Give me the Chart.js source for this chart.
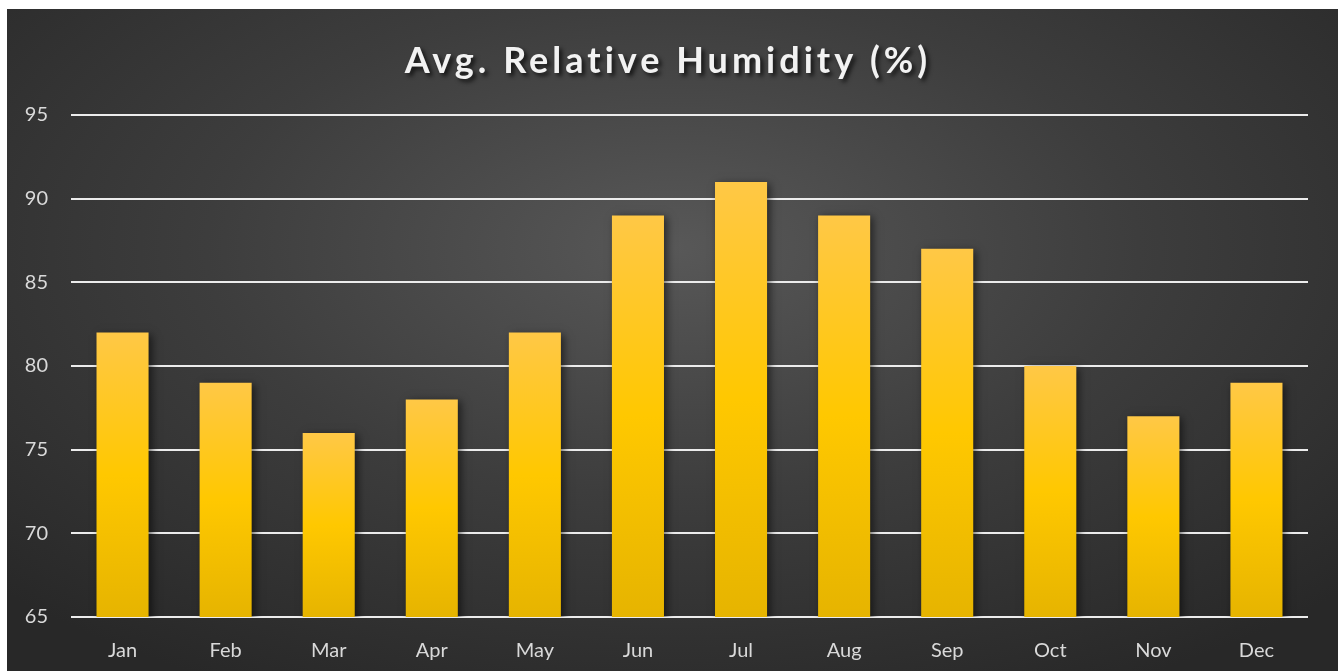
<!DOCTYPE html>
<html>
<head>
<meta charset="utf-8">
<script src="https://cdn.jsdelivr.net/npm/chart.js@4.4.0/dist/chart.umd.min.js"></script>
<style>
  html, body { margin: 0; padding: 0; background: #fff; }
  #box {
    position: absolute; left: 7px; top: 9px; width: 1331px; height: 662px;
    background: radial-gradient(ellipse 70% 75% at 50% 36%, #585858 0%, #3d3d3d 50%, #282828 100%);
  }
  #humidityChart { display: block; }
</style>
</head>
<body>
<div id="box"><canvas id="humidityChart" width="1331" height="662"></canvas></div>
<script>
// Dados
const months = ['Jan', 'Feb', 'Mar', 'Apr', 'May', 'Jun', 'Jul', 'Aug', 'Sep', 'Oct', 'Nov', 'Dec'];
const humidity = [82, 79, 76, 78, 82, 89, 91, 89, 87, 80, 77, 79];
const yTicks = [65, 70, 75, 80, 85, 90, 95];
const chartTitle = 'Avg. Relative Humidity (%)';

// Sombra nas barras
const barShadow = {
    id: 'barShadow',
    beforeDatasetsDraw(chart) {
        const c = chart.ctx;
        c.save();
        c.shadowColor = 'rgba(0,0,0,0.55)';
        c.shadowBlur = 8;
        c.shadowOffsetX = 3;
        c.shadowOffsetY = 2;
    },
    afterDatasetsDraw(chart) {
        chart.ctx.restore();
    }
};

// Título com espaçamento entre letras e sombra
const titleText = {
    id: 'titleText',
    afterDraw(chart) {
        const c = chart.ctx;
        c.save();
        c.font = 'bold 36px Lato';
        c.letterSpacing = '4px';
        c.textAlign = 'center';
        c.textBaseline = 'alphabetic';
        c.fillStyle = '#f2f2f2';
        c.shadowColor = 'rgba(0,0,0,0.7)';
        c.shadowBlur = 4;
        c.shadowOffsetX = 3;
        c.shadowOffsetY = 3;
        c.fillText(chartTitle, 661, 64);
        c.restore();
    }
};

document.addEventListener('DOMContentLoaded', function () {
    const ctx = document.getElementById('humidityChart').getContext('2d');
    new Chart(ctx, {
        type: 'bar',
        data: {
            labels: months,
            datasets: [{
                label: 'Humidity',
                data: humidity,
                // gradiente por barra: topo mais claro
                backgroundColor: function (context) {
                    const chart = context.chart;
                    const y = chart.scales.y;
                    if (!y || !chart.chartArea) return '#ffc800';
                    const top = y.getPixelForValue(context.raw);
                    const bottom = y.getPixelForValue(y.min);
                    if (!isFinite(top) || bottom - top < 1) return '#ffc800';
                    const g = chart.ctx.createLinearGradient(0, top, 0, bottom);
                    g.addColorStop(0, '#ffc846');
                    g.addColorStop(0.5, '#ffc800');
                    g.addColorStop(1, '#e6b400');
                    return g;
                },
                borderWidth: 0,
                barPercentage: 0.505,
                categoryPercentage: 1
            }]
        },
        options: {
            responsive: false,
            animation: false,
            layout: { padding: { left: 18, right: 30, top: 106, bottom: -6 } },
            plugins: {
                legend: { display: false },
                tooltip: { enabled: false },
                title: { display: false }
            },
            scales: {
                x: {
                    grid: { display: false },
                    border: { display: false },
                    ticks: { color: '#d9d9d9', font: { family: 'Lato', size: 20 }, padding: 14 }
                },
                y: {
                    min: 65,
                    max: 95,
                    afterFit: function (scale) { scale.width = 46; },
                    afterBuildTicks: function (scale) { scale.ticks = yTicks.map(v => ({ value: v })); },
                    grid: { color: '#ececec', lineWidth: 2, drawTicks: false },
                    border: { display: false },
                    ticks: { color: '#d9d9d9', font: { family: 'Lato', size: 20 }, padding: 23 }
                }
            }
        },
        plugins: [barShadow, titleText]
    });
});
</script>
</body>
</html>
